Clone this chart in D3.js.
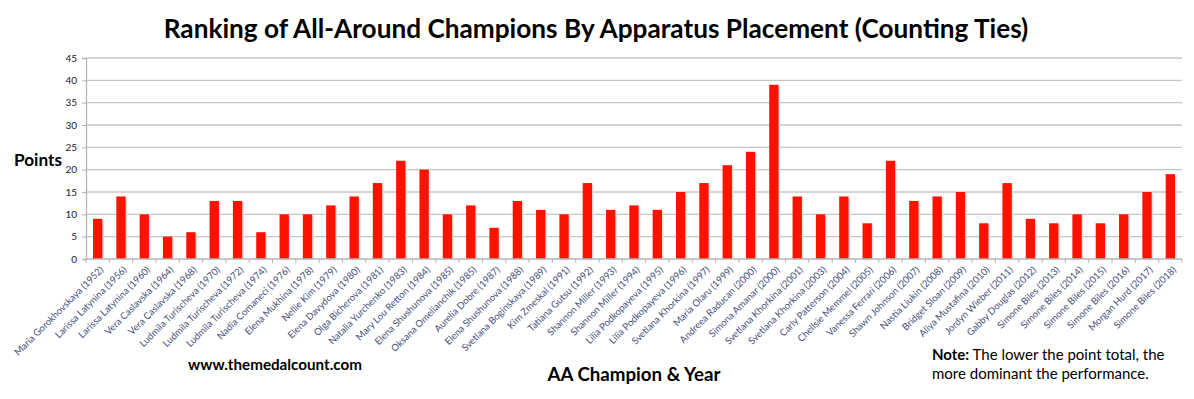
<!DOCTYPE html>
<html lang="en">
<head>
    <meta charset="UTF-8">
    <script src="https://d3js.org/d3.v7.min.js"></script>
    <title>AA Champions by Apparatus Placement</title>
    <style>
      body { margin: 0; background: #fff; font-family: Lato, sans-serif; }
    </style>
</head>
<body>
    <div id="wrapper"></div>
<script>

   const champions = [
      "Maria Gorokhovskaya (1952)", "Larissa Latynina (1956)", "Larissa Latynina (1960)",
      "Vera Caslavska (1964)", "Vera Caslavska (1968)", "Ludmila Turischeva (1970)",
      "Ludmila Turischeva (1972)", "Ludmila Turischeva (1974)", "Nadia Comaneci (1976)",
      "Elena Mukhina (1978)", "Nellie Kim (1979)", "Elena Davydova (1980)",
      "Olga Bicherova (1981)", "Natalia Yurchenko (1983)", "Mary Lou Retton (1984)",
      "Elena Shushunova (1985)", "Oksana Omelianchik (1985)", "Aurelia Dobre (1987)",
      "Elena Shushunova (1988)", "Svetlana Boginskaya (1989)", "Kim Zmeskal (1991)",
      "Tatiana Gutsu (1992)", "Shannon Miller (1993)", "Shannon Miller (1994)",
      "Lilia Podkopayeva (1995)", "Lilia Podkopayeva (1996)", "Svetlana Khorkina (1997)",
      "Maria Olaru (1999)", "Andreea Raducan (2000)", "Simona Amanar (2000)",
      "Svetlana Khorkina (2001)", "Svetlana Khorkina (2003)", "Carly Patterson (2004)",
      "Chellsie Memmel (2005)", "Vanessa Ferrari (2006)", "Shawn Johnson (2007)",
      "Nastia Liukin (2008)", "Bridget Sloan (2009)", "Aliya Mustafina (2010)",
      "Jordyn Wieber (2011)", "Gabby Douglas (2012)", "Simone Biles (2013)",
      "Simone Biles (2014)", "Simone Biles (2015)", "Simone Biles (2016)",
      "Morgan Hurd (2017)", "Simone Biles (2018)"
   ];

   const points = [
      9, 14, 10, 5, 6, 13, 13, 6, 10, 10, 12, 14, 17, 22, 20,
      10, 12, 7, 13, 11, 10, 17, 11, 12, 11, 15, 17, 21, 24, 39,
      14, 10, 14, 8, 22, 13, 14, 15, 8, 17, 9, 8, 10, 8, 10, 15, 19
   ];

   const yTicks = [0, 5, 10, 15, 20, 25, 30, 35, 40, 45];

   const chartTitle = "Ranking of All-Around Champions By Apparatus Placement (Counting Ties)";

   const dimensions = {
      width: 1194,
      height: 399,
      margin: { top: 58, right: 12, bottom: 140, left: 86 }
   };
   dimensions.boundedWidth = dimensions.width - dimensions.margin.left - dimensions.margin.right;
   dimensions.boundedHeight = dimensions.height - dimensions.margin.top - dimensions.margin.bottom;

   const svg = d3.select("#wrapper")
      .append("svg")
         .attr("width", dimensions.width)
         .attr("height", dimensions.height);

   const bounds = svg.append("g")
      .attr("transform", `translate(${dimensions.margin.left},${dimensions.margin.top})`);

   const xScale = d3.scaleBand()
      .domain(champions)
      .range([0, dimensions.boundedWidth])
      .paddingInner(0.6)
      .paddingOuter(0.3);

   const yScale = d3.scaleLinear()
      .domain([0, 45])
      .range([dimensions.boundedHeight, 0]);

   // shrink/grow a text node until it spans the given width
   function fitWidth(sel, w) {
      const node = sel.node();
      const size = parseFloat(sel.style("font-size"));
      const len = node.getComputedTextLength();
      sel.style("font-size", (size * w / len) + "px");
   }

   // gridlines
   bounds.append("g")
      .selectAll("line")
      .data(yTicks.filter(d => d > 0))
      .join("line")
         .attr("x1", 0)
         .attr("x2", dimensions.boundedWidth)
         .attr("y1", d => yScale(d))
         .attr("y2", d => yScale(d))
         .attr("stroke", "#c6c6c6")
         .attr("stroke-width", 1.3);

   // y axis
   const yAxis = bounds.append("g")
      .call(d3.axisLeft(yScale).tickValues(yTicks).tickSize(4).tickPadding(5));
   yAxis.select(".domain").attr("stroke", "#b4b4b4").attr("stroke-width", 1.3);
   yAxis.selectAll(".tick line").attr("stroke", "#b4b4b4");
   yAxis.selectAll(".tick text")
      .style("font-family", "Lato, sans-serif")
      .style("font-size", "10px")
      .attr("fill", "#222");

   // bar shadows then bars
   bounds.append("g")
      .selectAll("rect")
      .data(points)
      .join("rect")
         .attr("x", (d, i) => xScale(champions[i]) + 1.5)
         .attr("y", d => yScale(d) + 1.5)
         .attr("width", xScale.bandwidth())
         .attr("height", d => dimensions.boundedHeight - yScale(d) - 1.5)
         .attr("fill", "#dcdcdc");

   bounds.append("g")
      .selectAll("rect")
      .data(points)
      .join("rect")
         .attr("x", (d, i) => xScale(champions[i]))
         .attr("y", d => yScale(d))
         .attr("width", xScale.bandwidth())
         .attr("height", d => dimensions.boundedHeight - yScale(d))
         .attr("fill", "#ff1100");

   // x axis: ticks sit between categories
   const step = xScale.step();
   const xAxis = bounds.append("g")
      .attr("transform", `translate(0,${dimensions.boundedHeight})`);
   xAxis.append("line")
      .attr("x1", 0).attr("x2", dimensions.boundedWidth)
      .attr("stroke", "#b4b4b4").attr("stroke-width", 1.3);
   xAxis.selectAll(".sep")
      .data(d3.range(champions.length + 1))
      .join("line")
         .attr("class", "sep")
         .attr("x1", i => i * step).attr("x2", i => i * step)
         .attr("y1", 0).attr("y2", 4)
         .attr("stroke", "#b4b4b4");

   xAxis.selectAll(".lbl")
      .data(champions)
      .join("text")
         .attr("class", "lbl")
         .attr("transform", d => `translate(${xScale(d) + xScale.bandwidth() / 2 + 4},9) rotate(-45)`)
         .attr("text-anchor", "end")
         .attr("dy", "0.35em")
         .style("font-family", "Lato, sans-serif")
         .style("font-size", "9.6px")
         .attr("fill", "#45507a")
         .text(d => d);

   // titles and notes
   const title = svg.append("text")
      .attr("x", 596)
      .attr("y", 38)
      .attr("text-anchor", "middle")
      .style("font-family", "Lato, sans-serif")
      .style("font-weight", "bold")
      .style("font-size", "26px")
      .attr("fill", "#000")
      .text(chartTitle);
   fitWidth(title, 865);

   const yLabel = svg.append("text")
      .attr("x", 14)
      .attr("y", 166)
      .style("font-family", "Lato, sans-serif")
      .style("font-weight", "bold")
      .style("font-size", "16px")
      .text("Points");
   fitWidth(yLabel, 48);

   const xLabel = svg.append("text")
      .attr("x", 634)
      .attr("y", 381)
      .attr("text-anchor", "middle")
      .style("font-family", "Lato, sans-serif")
      .style("font-weight", "bold")
      .style("font-size", "18px")
      .text("AA Champion & Year");
   fitWidth(xLabel, 173);

   const site = svg.append("text")
      .attr("x", 188)
      .attr("y", 370)
      .style("font-family", "Lato, sans-serif")
      .style("font-weight", "bold")
      .style("font-size", "14px")
      .text("www.themedalcount.com");
   fitWidth(site, 174);

   const note = svg.append("text")
      .attr("x", 932)
      .style("font-family", "Lato, sans-serif")
      .style("font-size", "15px")
      .attr("fill", "#000");
   const line1 = note.append("tspan").attr("x", 932).attr("y", 360);
   line1.append("tspan").style("font-weight", "bold").text("Note:");
   line1.append("tspan").text(" The lower the point total, the");
   note.append("tspan").attr("x", 932).attr("y", 379).text("more dominant the performance.");

</script>
</body>
</html>
